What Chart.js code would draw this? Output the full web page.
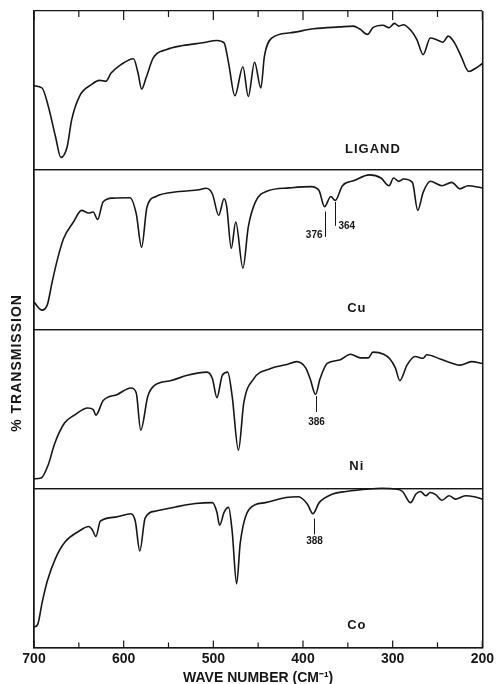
<!DOCTYPE html>
<html>
<head>
<meta charset="utf-8">
<title>Far-IR spectra</title>
<style>
  html, body { margin: 0; padding: 0; background: #fff; }
  #wrap { position: relative; width: 497px; height: 684px; }
</style>
</head>
<body>
<div id="wrap"><canvas id="MyCanvas"></canvas></div>
<script src="https://cdn.jsdelivr.net/npm/chart.js@4.4.1/dist/chart.umd.min.js"></script>
<script>
// wave numbers (cm-1) and % transmission
const ligandWn = [700,691,684,676,670,663,658,649,636,627,620,614,603,589,584,580,575,567,552,534,512,496,488,483,476,467,461,454,447,443,435,414,388,359,344,337,328,322,311,304,298,293,288,280,273,266,258,251,244,238,231,224,215,207,200];
const ligandT  = [53,51.6,40,21,8,14.7,31.6,46.7,53.7,56.4,55.8,61,66.3,70,61,51,58,70.5,75.8,78.3,80,81.5,80,67.4,46.7,65,46.3,67.8,51.6,71.6,83,86.3,88.8,90,90.5,88.8,85.3,89.5,91,89.5,92.2,90.5,91.4,88,82,72.6,83,82,80.4,84.2,80,72,62,64.2,67];

const cuWn = [700,691,685,680,674,667,656,647,639,634,629,623,612,593,586,580,574,564,538,516,508,501,494,488,485,480,475,467,461,453,439,416,391,382,376,369,364,356,343,326,313,304,299,293,288,278,272,266,258,245,234,225,216,200];
const cuT  = [17,12,15.6,29,43.6,57,67.4,74.7,73,73.7,69,80,82.4,82.6,72.6,51.5,76.8,83.4,86.5,87.6,88.6,85,71.6,82,76.8,50.8,67.4,38.4,64.3,80,87,88.8,89.6,87,77,83.4,81,90.2,93.4,97,95,90.2,95,92.9,94.4,92.3,74.7,86,93,90.2,92.3,88.2,90.2,88.8];

const niWn = [700,692,684,677,666,655,640,634,631,623,607,592,586,581,573,566,547,529,507,501,496,490,484,479,472,466,455,436,418,407,397,392,386,381,373,359,347,336,327,322,310,303,297,292,284,275,266,262,247,233,225,212,200];
const niT  = [6,6.5,15,28,41,46,50.5,49.5,46,55,59,63,60,36.6,58,64.5,67.7,71,73,68.8,57,71,73,58,24,53.8,68.8,75.3,77.8,79.6,75.7,68.8,59,68.8,78.5,80.6,84.3,82,82,85.6,84.3,81.3,75.7,67.7,77.4,82.8,81.7,83.9,81.3,78.5,77.4,79.6,78.5];

const coWn = [700,696,691,685,676,665,650,639,635,631,626,609,592,587,582,576,564,542,520,501,496,493,488,483,479,474,470,460,442,419,405,395,389,382,367,352,326,312,297,289,280,274,269,263,258,252,245,237,230,219,209,200];
const coT  = [12.8,14.3,28,42,56,66.5,73,76,74,69.7,79.3,81.9,84,79.3,60.6,81.4,85.7,88.3,90.4,91,84.9,76.8,84.9,88,73,40,65.5,86.8,91,94.2,94.7,90,84,91,96.4,98,99.6,100,99.6,98,91,96.4,98,95.3,97.4,96,92.5,95.3,93.2,95.3,94.7,93.2];

const samples = ['LIGAND', 'Cu', 'Ni', 'Co'];
const xTickLabels = [700, 600, 500, 400, 300, 200];
// marked bands: sample, wave number
const bandSample = ['Cu', 'Cu', 'Ni', 'Co'];
const bandWn = [376, 364, 386, 388];

const ink = '#161616';
const fam = '"Liberation Sans", Arial, sans-serif';

function pts(wn, t) { return wn.map((w, i) => ({ x: w, y: t[i] })); }

const axisIds = ['yLig', 'yCu', 'yNi', 'yCo'];
const series = [pts(ligandWn, ligandT), pts(cuWn, cuT), pts(niWn, niT), pts(coWn, coT)];

function panelAxis() {
  return {
    type: 'linear', position: 'left', stack: 'spectra', stackWeight: 1,
    min: 0, max: 100,
    ticks: { display: false, stepSize: 100 },
    grid: { color: ink, lineWidth: 1.3, drawTicks: false },
    border: { color: ink, width: 1.5 }
  };
}

// label layout inside each panel
const labelPos = { LIGAND: [322, 13], Cu: [340, 13], Ni: [340, 14], Co: [340, 13.5] };
// band markers: line from / to (panel %), label y, alignment
const bandStyle = [
  { from: 74, to: 58, ty: 59, align: 'right', dx: -3 },
  { from: 80, to: 65, ty: 65, align: 'left', dx: 3 },
  { from: 58, to: 48, ty: 41.5, align: 'center', dx: 0 },
  { from: 81, to: 71, ty: 67, align: 'center', dx: 0 }
];

const decor = {
  id: 'decor',
  afterDraw(chart) {
    const ctx = chart.ctx, a = chart.chartArea, xs = chart.scales.x;
    ctx.save();
    ctx.strokeStyle = ink; ctx.lineWidth = 1.2;
    // inward tick marks top and bottom
    xs.ticks.forEach(t => {
      const px = xs.getPixelForValue(t.value);
      const major = t.value % 100 === 0;
      ctx.beginPath();
      ctx.moveTo(px, a.bottom); ctx.lineTo(px, a.bottom - (major ? 7 : 5));
      ctx.moveTo(px, a.top); ctx.lineTo(px, a.top + (major ? 9 : 6));
      ctx.stroke();
    });
    ctx.fillStyle = ink;
    ctx.textBaseline = 'middle';
    // sample names
    ctx.font = 'bold 13px ' + fam;
    ctx.letterSpacing = '1px';
    ctx.textAlign = 'center';
    samples.forEach((s, i) => {
      const ys = chart.scales[axisIds[i]];
      ctx.fillText(s, xs.getPixelForValue(labelPos[s][0]), ys.getPixelForValue(labelPos[s][1]));
    });
    // band markers
    ctx.font = 'bold 10px ' + fam;
    ctx.letterSpacing = '0px';
    bandWn.forEach((w, i) => {
      const ys = chart.scales[axisIds[samples.indexOf(bandSample[i])]];
      const st = bandStyle[i];
      const px = Math.round(xs.getPixelForValue(w)) + 0.5;
      ctx.beginPath();
      ctx.moveTo(px, ys.getPixelForValue(st.from));
      ctx.lineTo(px, ys.getPixelForValue(st.to));
      ctx.lineWidth = 1;
      ctx.stroke();
      ctx.textAlign = st.align;
      ctx.fillText(String(w), px + st.dx, ys.getPixelForValue(st.ty));
    });
    // y title
    ctx.translate(17, a.top + 0.553 * (a.bottom - a.top));
    ctx.rotate(-Math.PI / 2);
    ctx.font = 'bold 14px ' + fam;
    ctx.letterSpacing = '1px';
    ctx.textAlign = 'center';
    ctx.fillText('% TRANSMISSION', 0, 0);
    ctx.restore();
  }
};

const scales = {
  x: {
    type: 'linear', reverse: true, min: 200, max: 700, position: 'bottom',
    ticks: {
      stepSize: 50, autoSkip: false, maxRotation: 0, padding: 3, color: ink,
      font: { family: fam, size: 14, weight: 'bold' },
      callback: v => xTickLabels.includes(v) ? String(v) : ''
    },
    grid: {
      drawTicks: false, lineWidth: 1.5,
      color: c => (c.tick && (c.tick.value === 200 || c.tick.value === 700)) ? ink : 'rgba(0,0,0,0)'
    },
    border: { display: true, color: ink, width: 1.5 },
    title: {
      display: true, text: 'WAVE NUMBER (CM\u207B\u00B9)', color: ink,
      font: { family: fam, size: 14, weight: 'bold' }, padding: { top: 0, bottom: 0 }
    }
  }
};
// stacked axes are laid out bottom-up, so add the bottom panel first
axisIds.slice().reverse().forEach(id => { scales[id] = panelAxis(); });

const myChart = new Chart(document.getElementById('MyCanvas').getContext('2d'), {
  type: 'line',
  data: {
    datasets: series.map((d, i) => ({
      label: samples[i], data: d, yAxisID: axisIds[i],
      borderColor: ink, borderWidth: 1.6, pointRadius: 0,
      fill: false, cubicInterpolationMode: 'monotone', clip: false
    }))
  },
  options: {
    responsive: true, maintainAspectRatio: false, animation: false, devicePixelRatio: 1,
    layout: { padding: { left: 34, right: 10, top: 11, bottom: -3 } },
    plugins: { legend: { display: false }, tooltip: { enabled: false } },
    scales
  },
  plugins: [decor]
});
</script>
</body>
</html>
